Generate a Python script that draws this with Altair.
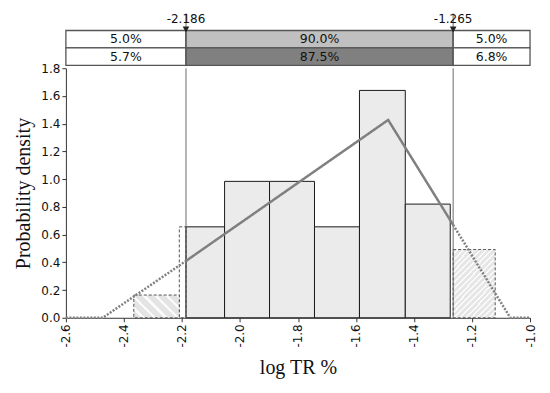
import altair as alt
import pandas as pd

# ---- data ----
bin_left = [-2.366, -2.209, -2.186, -2.053, -1.898, -1.743, -1.588, -1.430, -1.265]
bin_right = [-2.209, -2.186, -2.053, -1.898, -1.743, -1.588, -1.430, -1.275, -1.120]
density = [0.164, 0.656, 0.656, 0.984, 0.984, 0.656, 1.640, 0.820, 0.492]
bin_kind = ["hatchL", "edge", "in", "in", "in", "in", "in", "in", "hatchR"]

curve_x = [-2.6, -2.473, -2.186, -2.186, -1.489, -1.265, -1.265, -1.068, -1.0]
curve_y = [0.0, 0.0, 0.41, 0.41, 1.427, 0.67, 0.67, 0.0, 0.0]
curve_seg = ["left", "left", "left", "mid", "mid", "mid", "right", "right", "right"]
curve_style = ["out", "out", "out", "in", "in", "in", "out", "out", "out"]

delims = [-2.186, -1.265]
delim_labels = ["-2.186", "-1.265"]

cell_x0 = [-2.6, -2.186, -1.265, -2.6, -2.186, -1.265]
cell_x1 = [-2.186, -1.265, -1.0, -2.186, -1.265, -1.0]
cell_row = [1, 1, 1, 0, 0, 0]
cell_text = ["5.0%", "90.0%", "5.0%", "5.7%", "87.5%", "6.8%"]
cell_fill = ["#ffffff", "#c0c0c0", "#ffffff", "#ffffff", "#808080", "#ffffff"]

x_ticks = [-2.6, -2.4, -2.2, -2.0, -1.8, -1.6, -1.4, -1.2, -1.0]
y_ticks = [0.0, 0.2, 0.4, 0.6, 0.8, 1.0, 1.2, 1.4, 1.6, 1.8]

bars = pd.DataFrame({"x0": bin_left, "x1": bin_right, "d": density, "kind": bin_kind})
bars["y0"] = 0.0
curve = pd.DataFrame({"x0": curve_x, "y0": curve_y, "seg": curve_seg, "style": curve_style})
dl = pd.DataFrame({"x0": delims, "label": delim_labels})
cells = pd.DataFrame({"x0": cell_x0, "x1": cell_x1, "r": cell_row, "t": cell_text, "fill": cell_fill})
cells["r1"] = cells["r"] + 1
cells["rm"] = cells["r"] + 0.5

W, H = 465, 250
FONT = "DejaVu Sans"
SERIF = "Liberation Serif"

xscale = alt.Scale(domain=[-2.6, -1.0], nice=False, zero=False)
yscale = alt.Scale(domain=[0, 1.8], nice=False)

LABEL_EXPR = "replace(format(datum.value, '.1f'), '\u2212', '-')"


def stripes(n, c_bg, c_line, frac):
    stops = []
    for i in range(n):
        a = i / n
        b = (i + 1 - frac) / n
        c = (i + 1) / n
        stops += [alt.GradientStop(color=c_bg, offset=a), alt.GradientStop(color=c_bg, offset=b),
                  alt.GradientStop(color=c_line, offset=b), alt.GradientStop(color=c_line, offset=c)]
    return stops


hatchL = alt.Gradient(gradient="linear", stops=stripes(6, "#e4e4e4", "#fbfbfb", 0.3),
                      x1=0, y1=1, x2=1.2, y2=0.4)
hatchR = alt.Gradient(gradient="linear", stops=stripes(19, "#e6e6e6", "#fbfbfb", 0.35),
                      x1=0, y1=0, x2=0.737, y2=1.165)

xaxis = alt.Axis(values=x_ticks, labelExpr=LABEL_EXPR, labelAngle=270, grid=False,
                 tickSize=4, titlePadding=10, labelOverlap=False)
yaxis = alt.Axis(values=y_ticks, labelExpr=LABEL_EXPR, grid=False, tickSize=4, titlePadding=7,
                 labelOverlap=False)
xenc = alt.X("x0:Q", scale=xscale, title="log TR %", axis=xaxis)
yenc = alt.Y("y0:Q", scale=yscale, title="Probability density", axis=yaxis)

solid = alt.Chart(bars).transform_filter(alt.datum.kind == "in").mark_rect(
    fill="#ebebeb", stroke="#1a1a1a", strokeWidth=1
).encode(x=xenc, x2="x1:Q", y=yenc, y2="d:Q")

edge = alt.Chart(bars).transform_filter(alt.datum.kind == "edge").mark_rect(
    fill="#ffffff", fillOpacity=0, stroke="#555555", strokeWidth=1, strokeDash=[3, 2]
).encode(x=xenc, x2="x1:Q", y=yenc, y2="d:Q")

hl = alt.Chart(bars).transform_filter(alt.datum.kind == "hatchL").mark_rect(
    fill=hatchL, stroke="#555555", strokeWidth=1, strokeDash=[3, 2]
).encode(x=xenc, x2="x1:Q", y=yenc, y2="d:Q")

hr = alt.Chart(bars).transform_filter(alt.datum.kind == "hatchR").mark_rect(
    fill=hatchR, stroke="#555555", strokeWidth=1, strokeDash=[3, 2]
).encode(x=xenc, x2="x1:Q", y=yenc, y2="d:Q")

vlines = alt.Chart(dl).mark_rule(color="#5a5a5a", strokeWidth=0.9).encode(
    x=xenc, y=alt.value(0), y2=alt.value(H))

line = alt.Chart(curve).mark_line(color="#808080", strokeWidth=2.5, strokeCap="butt").encode(
    x=xenc, y=yenc, detail="seg:N",
    strokeDash=alt.StrokeDash("style:N", scale=alt.Scale(domain=["out", "in"], range=[[2, 1.5], [1, 0]]),
                              legend=None))

main = alt.layer(solid, edge, hl, hr, vlines, line).properties(width=W, height=H)

# ---- top box ----
tyscale = alt.Scale(domain=[-0.05, 3.1], nice=False, zero=False)
TH = 55
txenc = alt.X("x0:Q", scale=xscale, axis=None)
cellrects = alt.Chart(cells).mark_rect(stroke="#555555", strokeWidth=1.3).encode(
    x=txenc, x2="x1:Q",
    y=alt.Y("r:Q", scale=tyscale, axis=None), y2="r1:Q",
    fill=alt.Fill("fill:N", scale=None))
celltext = alt.Chart(cells).transform_calculate(xm="(datum.x0 + datum.x1) / 2").mark_text(
    font=FONT, fontSize=12.5, color="#111111", baseline="middle"
).encode(x=alt.X("xm:Q", scale=xscale, axis=None), y=alt.Y("rm:Q", scale=tyscale, axis=None), text="t:N")
trule = alt.Chart(dl).mark_rule(color="#5a5a5a", strokeWidth=0.9).encode(
    x=txenc, y=alt.value(TH), y2=alt.datum(2))
tri = alt.Chart(dl).mark_point(shape="triangle-down", filled=True, color="#222222", size=45,
                               opacity=1, yOffset=-1).encode(x=txenc, y=alt.datum(2))
tlab = alt.Chart(dl).mark_text(font=FONT, fontSize=12, color="#111111", baseline="middle").encode(
    x=txenc, y=alt.datum(2.68), text="label:N")
top = alt.layer(cellrects, trule, celltext, tri, tlab).properties(width=W, height=TH)

chart = alt.vconcat(top, main, spacing=2, bounds="flush").properties(
    padding={"left": 5, "top": 3, "right": 5, "bottom": 5}
).configure_view(stroke=None).configure_axis(
    labelFont=FONT, labelFontSize=12, labelColor="#111111",
    titleFont=SERIF, titleFontSize=20, titleFontWeight="normal", titleColor="#111111",
    domainColor="#333333", tickColor="#333333", labelPadding=2, labelOverlap=False
)

chart.save("out.html", embed_options={"renderer": "svg", "actions": False})
